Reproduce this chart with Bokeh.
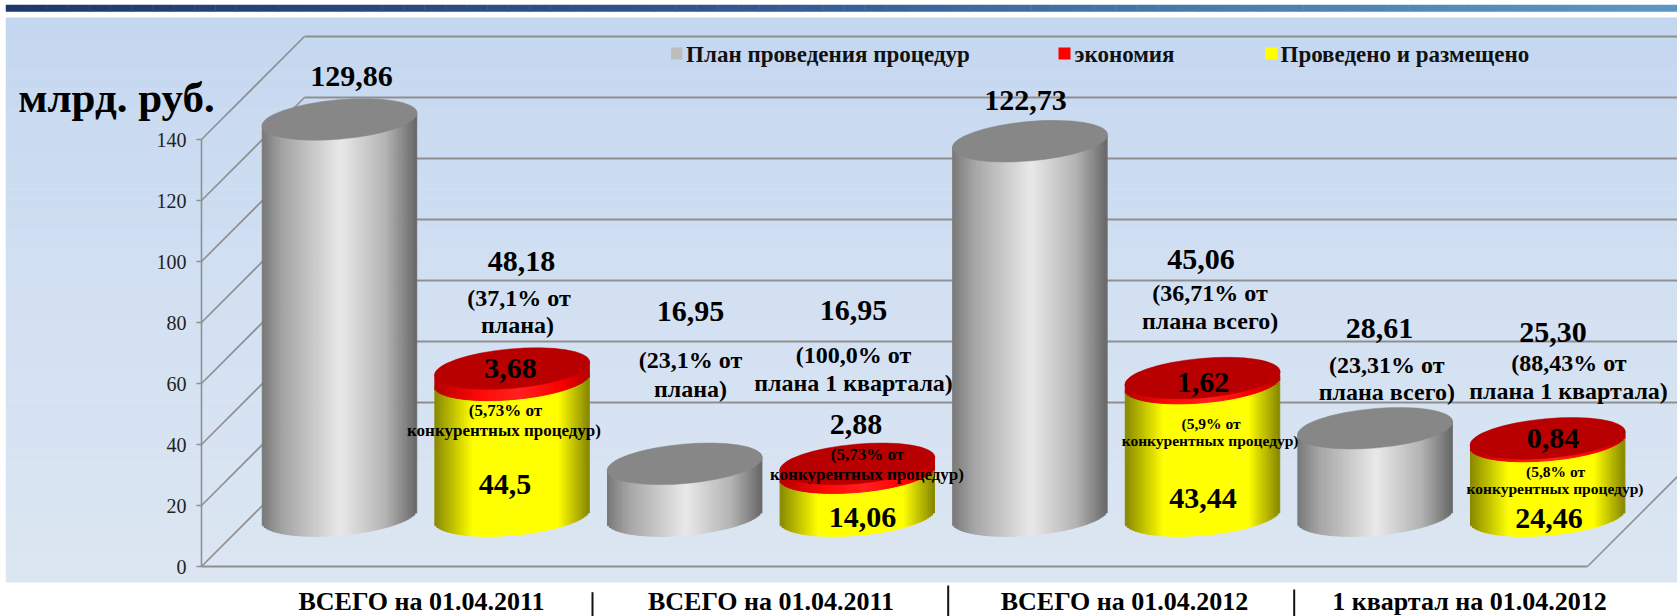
import numpy as np
from bokeh.plotting import figure
from bokeh.models import ColumnDataSource, Range1d, FixedTicker
from bokeh.core.properties import value
from bokeh.embed import file_html
from bokeh.resources import INLINE

# ---------- data ----------
categories = ["ВСЕГО на 01.04.2011", "ВСЕГО на 01.04.2011", "ВСЕГО на 01.04.2012", "1 квартал на 01.04.2012"]
plan = [129.86, None, 16.95, None, 122.73, None, 28.61, None]
placed = [None, 44.5, None, 14.06, None, 43.44, None, 24.46]
saved = [None, 3.68, None, 2.88, None, 1.62, None, 0.84]
y_ticks = [0, 20, 40, 60, 80, 100, 120, 140]
legend_labels = ["План проведения процедур", "экономия", "Проведено и размещено"]
big_labels = ["129,86", "48,18", "16,95", "16,95", "122,73", "45,06", "28,61", "25,30",
              "3,68", "44,5", "2,88", "14,06", "1,62", "43,44", "0,84", "24,46"]
note_labels = ["(37,1% от", "плана)", "(23,1% от", "плана)", "(100,0% от", "плана 1 квартала)",
               "(36,71% от", "плана всего)", "(23,31% от", "плана всего)", "(88,43% от", "плана 1 квартала)"]
small_labels = ["(5,73% от", "конкурентных процедур)", "(5,73% от", "конкурентных процедур)",
                "(5,9% от", "конкурентных процедур)", "(5,8% от", "конкурентных процедур)"]
unit_label = "млрд. руб."

# ---------- page geometry (px from the picture's corner) ----------
W, H = 1677, 616
X0, DX = 339.0, 172.6          # first cylinder centre, spacing
Y0, KY = 566.0, 3.05           # value 0 on the front axis, px per unit
def fx(px): return (np.asarray(px, float) - X0) / DX
def fy(py): return (Y0 - np.asarray(py, float)) / KY

p = figure(width=W, height=H, output_backend="svg", toolbar_location=None,
           x_range=Range1d(float(fx(0)), float(fx(W))),
           y_range=Range1d(float(fy(H)), float(fy(0))),
           min_border=0, outline_line_color=None,
           background_fill_color="white", border_fill_color="white")
p.grid.visible = False

def lerp(stops, t):
    ts = [s[0] for s in stops]
    c = np.array([s[1] for s in stops], float)
    return "#%02x%02x%02x" % tuple(int(round(np.interp(t, ts, c[:, k]))) for k in range(3))

# ---------- panel background ----------
bands = np.linspace(17.3, 581.7, 57)
bg = [(0, (196, 215, 240)), (0.5, (210, 224, 242)), (1, (220, 230, 242))]
cols = [lerp(bg, i / 55) for i in range(56)]
p.quad(left=float(fx(5.5)), right=float(fx(1680)), top=fy(bands[:-1]), bottom=fy(bands[1:]),
       fill_color=cols, line_color=cols, line_width=0.5)

# ---------- header strip ----------
xs = np.linspace(5.5, 1680, 81)
hd = [(0, (30, 56, 108)), (0.45, (52, 88, 146)), (0.75, (74, 128, 176)), (1, (92, 150, 196))]
cols = [lerp(hd, i / 79) for i in range(80)]
p.quad(left=fx(xs[:-1]), right=fx(xs[1:]), top=float(fy(4.5)), bottom=float(fy(11)),
       fill_color=cols, line_color=cols, line_width=0.5)

# ---------- walls: gridlines from the tick values ----------
DEPTH = 103.0
wall = "#8f8f8f"
t = np.array(y_ticks, float)
back_x = float(fx(201 + DEPTH))
p.segment(x0=fx(201.0) * np.ones(len(t)), y0=t, x1=back_x * np.ones(len(t)), y1=t + DEPTH / KY,
          line_color=wall, line_width=1.6)
p.segment(x0=back_x * np.ones(7), y0=t[1:] + DEPTH / KY, x1=float(fx(1685)) * np.ones(7), y1=t[1:] + DEPTH / KY,
          line_color=wall, line_width=2)
p.segment(x0=[float(fx(201))], y0=[0], x1=[float(fx(1587))], y1=[0], line_color=wall, line_width=2.2)
p.segment(x0=[float(fx(1587))], y0=[0], x1=[float(fx(1587 + DEPTH))], y1=[DEPTH / KY], line_color=wall, line_width=1.6)

# ---------- cylinders ----------
BASE = (Y0 - 515.0) / KY
A_PX, B_PX, ANGLE = 78.0, 19.7, 5.1
th = np.radians(ANGLE)
Sxx = (A_PX * np.cos(th)) ** 2 + (B_PX * np.sin(th)) ** 2
Syy = (A_PX * np.sin(th)) ** 2 + (B_PX * np.cos(th)) ** 2
Sxy = (A_PX ** 2 - B_PX ** 2) * np.sin(th) * np.cos(th)
R = np.sqrt(Sxx) - 0.5
N = 78
edges = np.linspace(-R, R, N + 1)
mids = (edges[:-1] + edges[1:]) / 2
mid_line = mids * Sxy / Sxx / KY
half = np.sqrt(np.maximum(Syy - Sxy ** 2 / Sxx, 0)) * np.sqrt(np.maximum(1 - (mids / (R + 0.5)) ** 2, 0)) / KY

GRAY = [(-1, (120, 120, 120)), (-0.72, (165, 165, 165)), (0.02, (233, 233, 233)), (0.6, (180, 180, 180)), (1, (104, 104, 104))]
YELL = [(-1, (135, 135, 0)), (-0.5, (255, 255, 0)), (0.6, (255, 255, 0)), (1, (135, 135, 0))]
REDS = [(-1, (180, 0, 0)), (-0.4, (255, 10, 10)), (0.1, (255, 32, 32)), (0.6, (255, 0, 0)), (1, (180, 0, 0))]

def body(cx, lo, hi, stops):
    u = mids / R
    cols = [lerp(stops, v) for v in u]
    p.quad(left=cx + edges[:-1] / DX, right=cx + edges[1:] / DX,
           bottom=lo + mid_line - half, top=hi + mid_line,
           fill_color=cols, line_color=cols, line_width=1)

def cap(cx, level, color):
    p.ellipse(x=[cx], y=[level], width=2 * A_PX / DX, height=2 * B_PX / KY, angle=ANGLE, angle_units="deg",
              fill_color=color, line_color=color, line_width=0.5)

for i in range(8):
    if plan[i] is not None:
        body(i, BASE, BASE + plan[i], GRAY)
        cap(i, BASE + plan[i], "#878787")
    else:
        body(i, BASE, BASE + placed[i], YELL)
        body(i, BASE + placed[i], BASE + placed[i] + saved[i], REDS)
        cap(i, BASE + placed[i] + saved[i], "#b80000")

# ---------- axes ----------
p.yaxis.fixed_location = float(fx(201))
p.yaxis.bounds = (0, 140)
p.yaxis.ticker = FixedTicker(ticks=y_ticks)
p.yaxis.axis_line_color = wall
p.yaxis.axis_line_width = 1.6
p.yaxis.major_tick_line_color = wall
p.yaxis.major_tick_line_width = 1.6
p.yaxis.major_tick_out = 5
p.yaxis.major_tick_in = 0
p.yaxis.minor_tick_line_color = None
p.yaxis.major_label_standoff = 10
p.yaxis.major_label_text_font = "Liberation Serif"
p.yaxis.major_label_text_font_size = "20px"
p.yaxis.major_label_text_color = "#222222"
p.yaxis.major_label_text_font_style = "normal"

group_px = [421.0, 770.5, 1124.0, 1469.0]
p.xaxis.fixed_location = float(fy(586))
p.xaxis.ticker = FixedTicker(ticks=[float(fx(g)) for g in group_px])
p.xaxis.major_label_overrides = {float(fx(g)): c for g, c in zip(group_px, categories)}
p.xaxis.axis_line_color = None
p.xaxis.major_tick_line_color = None
p.xaxis.major_tick_out = 0
p.xaxis.major_tick_in = 0
p.xaxis.minor_tick_line_color = None
p.xaxis.major_label_standoff = 0
p.xaxis.major_label_text_font = "Liberation Serif"
p.xaxis.major_label_text_font_size = "26px"
p.xaxis.major_label_text_font_style = "bold"
p.xaxis.major_label_text_color = "black"

sep_px = [(592, 591.7), (947.7, 585), (1293.7, 589)]
p.segment(x0=[float(fx(a)) for a, _ in sep_px], y0=[float(fy(b)) for _, b in sep_px],
          x1=[float(fx(a)) for a, _ in sep_px], y1=[float(fy(616))] * 3, line_color="#111111", line_width=2)

# ---------- legend ----------
leg_box = [(670.6, 682), (1058, 1070), (1264.7, 1277)]
leg_col = ["#bdbdbd", "#ff0000", "#ffff00"]
p.quad(left=[float(fx(a)) for a, b in leg_box], right=[float(fx(b)) for a, b in leg_box],
       top=float(fy(47)), bottom=float(fy(59)), fill_color=leg_col, line_color=None)
p.text(x=[float(fx(v)) for v in (685.6, 1074, 1280)], y=float(fy(54)), text=legend_labels,
       text_font=value("Liberation Serif"), text_font_style="bold", text_font_size="23px",
       text_align="left", text_baseline="middle", text_color="#111111")

# ---------- labels ----------
def labels(txt, pos, size, color="black"):
    p.text(x=[float(fx(a)) for a, _ in pos], y=[float(fy(b)) for _, b in pos], text=txt,
           text_font=value("Liberation Serif"), text_font_style="bold", text_font_size=size,
           text_align="center", text_baseline="middle", text_color=color)

big_pos = [(351, 76), (521, 261), (690, 311), (853, 310), (1025, 100), (1200.5, 259), (1379, 328), (1552.4, 331.7),
           (510, 368), (504.5, 484), (855.6, 424), (862, 517), (1202.6, 381.7), (1202.6, 498), (1552.4, 438), (1548.6, 518)]
labels(big_labels, big_pos, "30px")

note_pos = [(518.5, 297), (517, 324), (690, 359), (690, 388), (853, 354), (853, 382),
            (1209.6, 292), (1209.6, 320), (1386.3, 364), (1386.3, 391.7), (1568.4, 362), (1568, 390.7)]
labels(note_labels, note_pos, "24px")

small_pos = [(505, 410), (503.5, 430), (867, 454), (866.5, 474), (1210.6, 423), (1209.6, 440), (1555, 470.7), (1554.5, 487.7)]
small_size = [17, 17, 17, 17, 15.5, 15.5, 15.5, 15.5]
for k in (17, 15.5):
    idx = [j for j, s in enumerate(small_size) if s == k]
    labels([small_labels[j] for j in idx], [small_pos[j] for j in idx], f"{k}px")

p.text(x=[float(fx(17.7))], y=[float(fy(97))], text=[unit_label],
       text_font=value("Liberation Serif"), text_font_style="bold", text_font_size="43px",
       text_align="left", text_baseline="middle", text_color="black")

open("out.html", "w").write(file_html(p, INLINE))
